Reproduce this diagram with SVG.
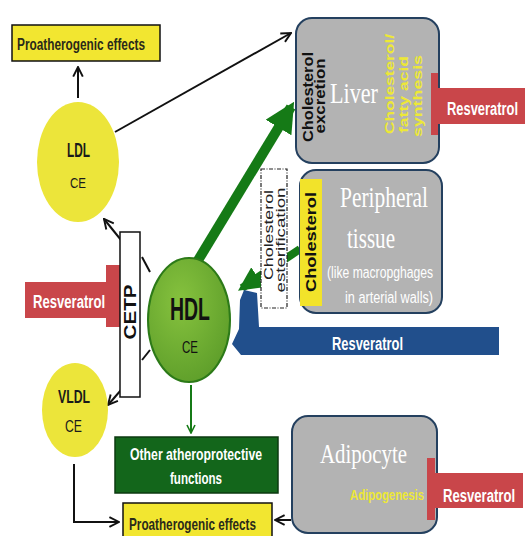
<svg xmlns="http://www.w3.org/2000/svg" width="530" height="536" viewBox="0 0 530 536">
<style>
.n{font-family:"Liberation Sans",Arial,sans-serif}
.s{font-family:"Liberation Sans",Arial,sans-serif}
.sr{font-family:"Liberation Serif","Times New Roman",serif;fill:#fff}
.b{font-weight:bold}
.yel{fill:#f2e630;stroke:#111;stroke-width:1.5}
.cell{fill:#b3b3b3;stroke:#24405f;stroke-width:2}
.red{fill:#c9464a}
.thin{stroke:#111;stroke-width:2;fill:none}
.g{stroke:#157a16;fill:none}
.rv{font-family:"Liberation Sans",Arial,sans-serif;font-weight:bold;font-size:19px;fill:#fff}
</style>
<defs>
<marker id="ahl" viewBox="0 0 10 10" refX="9" refY="5" markerWidth="12" markerHeight="12" markerUnits="userSpaceOnUse" orient="auto"><path d="M1,1 L9,5 L1,9" fill="none" stroke="#111" stroke-width="1.6"/></marker>
<marker id="gh" viewBox="0 0 10 10" refX="8" refY="5" markerWidth="3" markerHeight="3" orient="auto"><path d="M0,0 L10,5 L0,10 Z" fill="#157a16"/></marker>
<marker id="ghs" viewBox="0 0 10 10" refX="9" refY="5" markerWidth="10" markerHeight="10" markerUnits="userSpaceOnUse" orient="auto"><path d="M1,1 L9,5 L1,9" fill="none" stroke="#157a16" stroke-width="1.6"/></marker>
<radialGradient id="hg" cx="0.4" cy="0.35" r="0.7"><stop offset="0" stop-color="#86c23e"/><stop offset="1" stop-color="#5e9e2a"/></radialGradient>
</defs>
<rect width="530" height="536" fill="#fff"/>

<g id="connectors">
<line x1="78" y1="98" x2="78" y2="67" class="thin" marker-end="url(#ahl)"/>
<line x1="115" y1="132" x2="291" y2="33" class="thin" marker-end="url(#ahl)"/>
<line x1="197" y1="262" x2="291" y2="107" class="g" stroke-width="10" marker-end="url(#gh)"/>
<line x1="300" y1="249" x2="242" y2="288" class="g" stroke-width="8" marker-end="url(#gh)"/>
<line x1="121" y1="240" x2="104" y2="219" class="thin" marker-end="url(#ahl)"/>
<line x1="121" y1="390" x2="108" y2="405" class="thin" marker-end="url(#ahl)"/>
<line x1="142" y1="257" x2="150" y2="272" class="thin"/>
<line x1="142" y1="360" x2="150" y2="350" class="thin"/>
<line x1="191" y1="385" x2="191" y2="433" stroke="#157a16" stroke-width="2" marker-end="url(#ghs)"/>
<polyline points="74,464 74,522 119,522" class="thin" marker-end="url(#ahl)"/>
<line x1="291" y1="520" x2="275" y2="520" class="thin" marker-end="url(#ahl)"/>
</g>

<g id="proathero-top">
<rect x="12" y="25" width="148" height="36" class="yel"/>
<text x="17" y="50" class="n b" font-size="16" fill="#2a2a1a" textLength="128" lengthAdjust="spacingAndGlyphs">Proatherogenic effects</text>
</g>

<g id="ldl">
<ellipse cx="78" cy="162" rx="41" ry="60" fill="#ece53a"/>
<text x="67" y="157" class="n b" font-size="20" fill="#1a1a1a" textLength="23" lengthAdjust="spacingAndGlyphs">LDL</text>
<text x="70" y="188" class="n" font-size="15" fill="#1a1a1a" textLength="16" lengthAdjust="spacingAndGlyphs">CE</text>
</g>

<g id="liver">
<rect x="296" y="18" width="143" height="145" rx="16" class="cell"/>
<text transform="translate(313,97) rotate(-90)" text-anchor="middle" class="s b" font-size="14" fill="#111" textLength="90" lengthAdjust="spacingAndGlyphs">Cholesterol</text>
<text transform="translate(325,96) rotate(-90)" text-anchor="middle" class="s b" font-size="14" fill="#111" textLength="75" lengthAdjust="spacingAndGlyphs">excretion</text>
<text x="330" y="103" class="sr" font-size="30" textLength="48" lengthAdjust="spacingAndGlyphs">Liver</text>
<text transform="translate(394,134) rotate(-90)" class="s b" font-size="13" fill="#ede836" textLength="100" lengthAdjust="spacingAndGlyphs">Cholesterol/</text>
<text transform="translate(408,133) rotate(-90)" class="s b" font-size="13" fill="#ede836" textLength="77" lengthAdjust="spacingAndGlyphs">fatty  acid</text>
<text transform="translate(422,137) rotate(-90)" class="s b" font-size="13" fill="#ede836" textLength="82" lengthAdjust="spacingAndGlyphs">synthesis</text>
</g>

<g id="resv-liver">
<rect x="431" y="73" width="7" height="62" class="red"/>
<rect x="437" y="88" width="88" height="36" class="red"/>
<text transform="translate(447,115) scale(0.68,1)" class="rv">Resveratrol</text>
</g>

<g id="peripheral">
<rect x="300" y="170" width="142" height="143" rx="16" class="cell"/>
<rect x="300" y="179" width="22" height="127" fill="#f2e32a"/>
<text transform="translate(316,242) rotate(-90)" text-anchor="middle" class="s b" font-size="14" fill="#111" textLength="100" lengthAdjust="spacingAndGlyphs">Cholesterol</text>
<text x="340" y="207" class="sr" font-size="29" textLength="88" lengthAdjust="spacingAndGlyphs">Peripheral</text>
<text x="347" y="248" class="sr" font-size="29" textLength="48" lengthAdjust="spacingAndGlyphs">tissue</text>
<text x="327" y="278" class="n" font-size="16" fill="#fff" textLength="106" lengthAdjust="spacingAndGlyphs">(like macropghages</text>
<text x="345" y="303" class="n" font-size="16" fill="#fff" textLength="88" lengthAdjust="spacingAndGlyphs">in arterial walls)</text>
</g>

<g id="esterification">
<rect x="261" y="169" width="26" height="139" fill="#fff" stroke="#222" stroke-width="1.2" stroke-dasharray="4,1.5,1,1.5"/>
<text transform="translate(273,235) rotate(-90)" text-anchor="middle" class="s" font-size="13" fill="#222" textLength="90" lengthAdjust="spacingAndGlyphs">Cholesterol</text>
<text transform="translate(285,240) rotate(-90)" text-anchor="middle" class="s" font-size="13" fill="#222" textLength="105" lengthAdjust="spacingAndGlyphs">esterification</text>
</g>

<g id="resv-cetp">
<rect x="106" y="265" width="14" height="62" class="red"/>
<rect x="25" y="282" width="88" height="36" class="red"/>
<text transform="translate(33,308) scale(0.69,1)" class="rv">Resveratrol</text>
</g>

<g id="cetp">
<rect x="120" y="232" width="20" height="165" fill="#fff" stroke="#111" stroke-width="1.5"/>
<text transform="translate(136,312) rotate(-90)" text-anchor="middle" class="s b" font-size="16" fill="#111" textLength="55" lengthAdjust="spacingAndGlyphs">CETP</text>
</g>

<g id="resv-blue">
<path d="M244,290 L257,293 L259,327 L499,327 L499,355 L241,355 L232,344 L239,329 L240,300 Z" fill="#214f8c"/>
<text transform="translate(332,350) scale(0.68,1)" class="rv">Resveratrol</text>
</g>

<g id="hdl">
<ellipse cx="189" cy="320" rx="41" ry="62" fill="url(#hg)" stroke="#2c7a18" stroke-width="2"/>
<text x="170" y="320" class="n b" font-size="32" fill="#111" textLength="40" lengthAdjust="spacingAndGlyphs">HDL</text>
<text x="182" y="353" class="n" font-size="16" fill="#111" textLength="16" lengthAdjust="spacingAndGlyphs">CE</text>
</g>

<g id="vldl">
<ellipse cx="75" cy="410" rx="33" ry="47" fill="#ece53a"/>
<text x="58" y="403" class="n b" font-size="19" fill="#1a1a1a" textLength="32" lengthAdjust="spacingAndGlyphs">VLDL</text>
<text x="65" y="432" class="n" font-size="17" fill="#1a1a1a" textLength="17" lengthAdjust="spacingAndGlyphs">CE</text>
</g>

<g id="atheroprotective">
<rect x="115" y="437" width="163" height="56" fill="#13661b" stroke="#0c3a10" stroke-width="1.5"/>
<text x="130" y="460" class="n b" font-size="16" fill="#fff" textLength="132" lengthAdjust="spacingAndGlyphs">Other atheroprotective</text>
<text x="170" y="484" class="n b" font-size="16" fill="#fff" textLength="52" lengthAdjust="spacingAndGlyphs">functions</text>
</g>

<g id="proathero-bottom">
<rect x="123" y="503" width="149" height="40" class="yel"/>
<text x="129" y="530" class="n b" font-size="17" fill="#2a2a1a" textLength="127" lengthAdjust="spacingAndGlyphs">Proatherogenic effects</text>
</g>

<g id="adipocyte">
<rect x="292" y="416" width="145" height="117" rx="16" class="cell"/>
<text x="320" y="463" class="sr" font-size="28" textLength="87" lengthAdjust="spacingAndGlyphs">Adipocyte</text>
<text x="350" y="500" class="n b" font-size="15" fill="#ede836" textLength="74" lengthAdjust="spacingAndGlyphs">Adipogenesis</text>
</g>

<g id="resv-adipo">
<rect x="427" y="458" width="8" height="62" class="red"/>
<rect x="434" y="473" width="89" height="35" class="red"/>
<text transform="translate(443,502) scale(0.69,1)" class="rv">Resveratrol</text>
</g>
</svg>
